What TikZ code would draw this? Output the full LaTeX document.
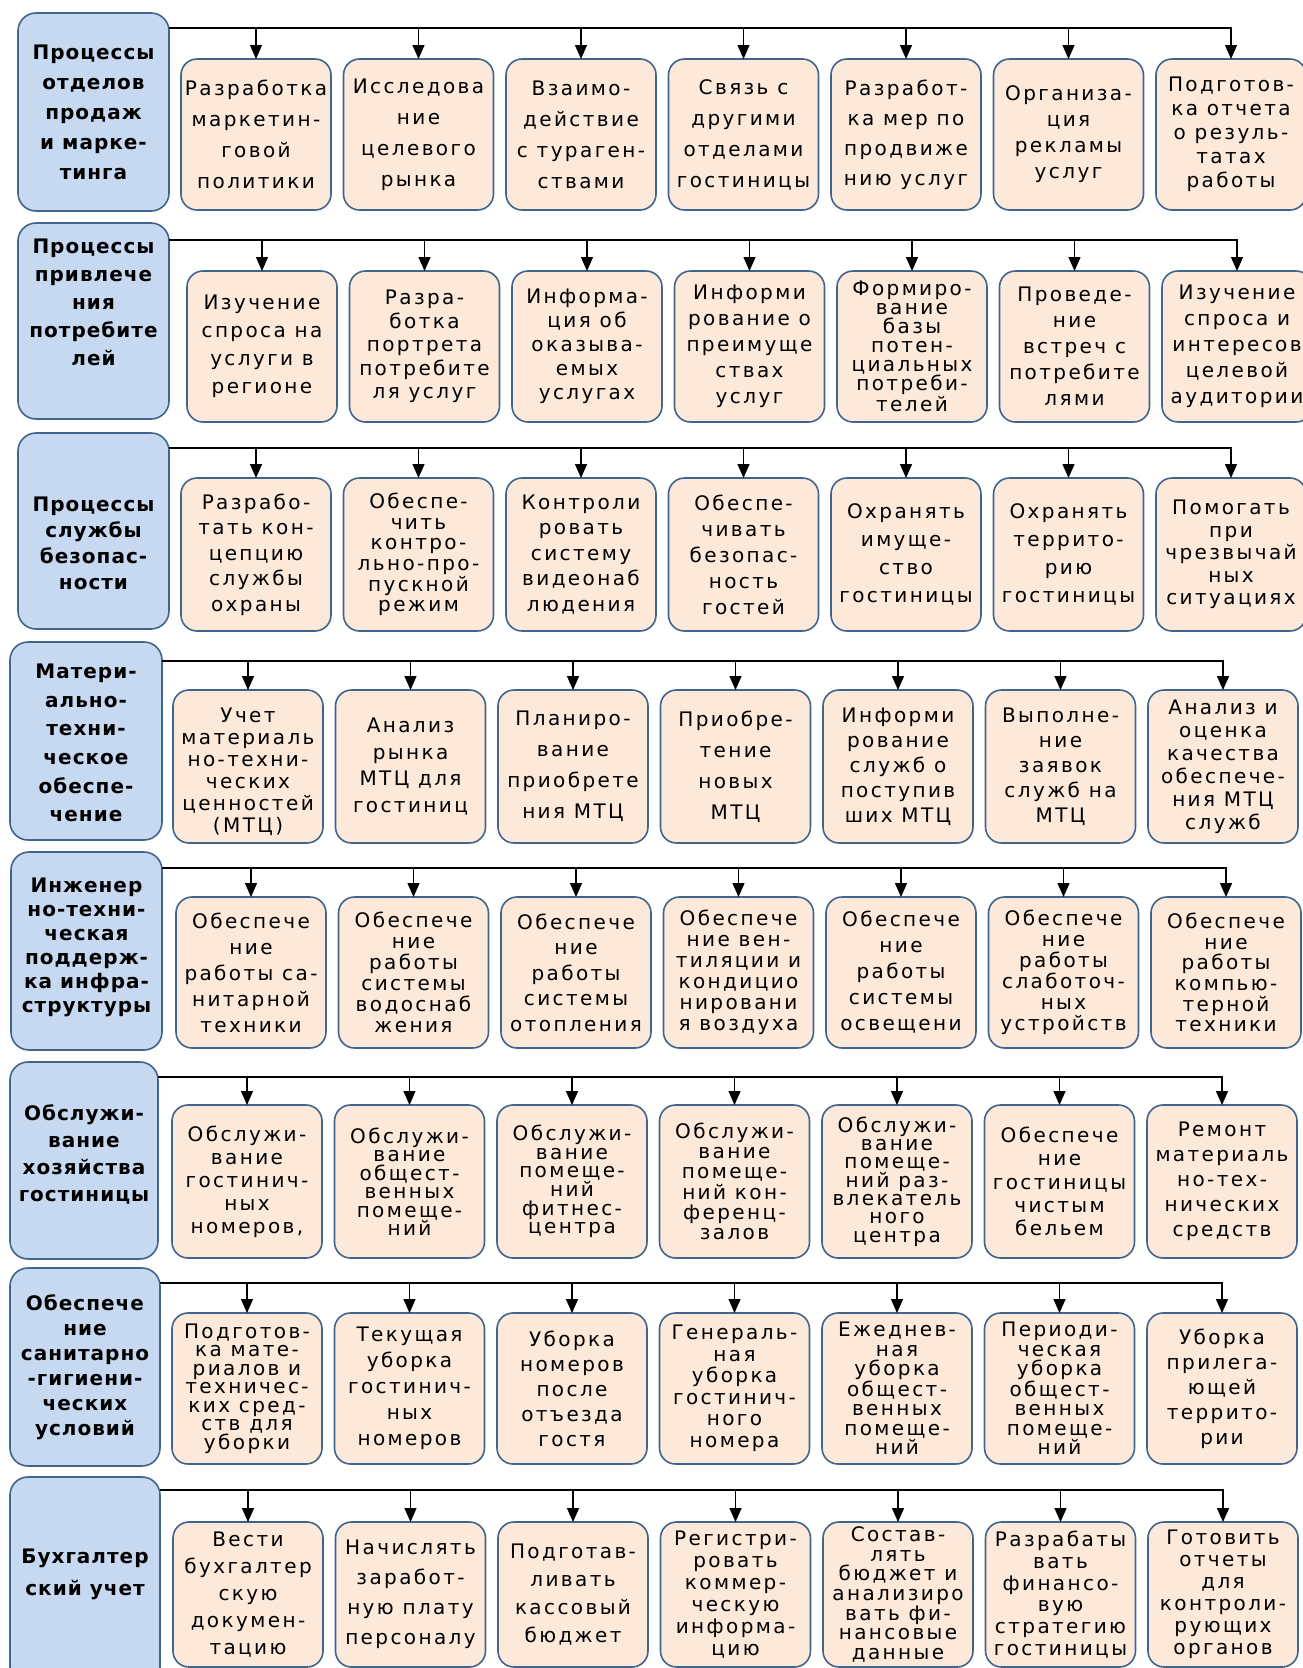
\documentclass[tikz,border=0pt]{standalone}
\usepackage{fontspec}
\setmainfont{DejaVu Sans}
\newfontfamily\pfont{DejaVu Sans}[LetterSpace=12]
\newfontfamily\hfont{DejaVu Sans}[LetterSpace=5]
\usetikzlibrary{arrows.meta}
\definecolor{headfill}{RGB}{198,217,241}
\definecolor{procfill}{RGB}{253,233,218}
\definecolor{edge}{RGB}{65,100,140}

\tikzset{
  proc/.style={draw=edge, fill=procfill, line width=1.6pt, rounded corners=16pt,
    minimum width=150pt, inner sep=0pt, outer sep=0pt},
  head/.style={draw=edge, fill=headfill, line width=1.6pt, rounded corners=18pt,
    inner sep=0pt, outer sep=0pt},
  ptext/.style={align=center, inner sep=0pt, font=\pfont\fontsize{20}{#1}\selectfont},
  htext/.style={align=center, inner sep=0pt, font=\hfont\bfseries\fontsize{20}{#1}\selectfont},
  link/.style={line width=1.3pt, draw=black},
  arr/.style={link, -{Triangle[length=14pt,width=12pt]}},
}

% department box: name, left, right, top, bottom, line skip, text shift, text
\newcommand\headbox[8]{%
  \node[head, minimum width={#3-#2}, minimum height={#5-#4}] (#1) at ({(#2+#3)/2},{(#4+#5)/2}) {};
  \node[htext=#6, yshift=#7pt] (#1t) at (#1.center) {#8};
}
% row geometry: left of first task box, top, bottom
\newcommand\rowsetup[3]{\def\bxL{#1}\def\bxT{#2}\def\bxB{#3}}
% task box: [text shift] name, column 0..6, line skip, text
\newcommand\procbox[5][0]{%
  \node[proc, minimum height={\bxB-\bxT}] (#2) at ({\bxL+75+162.5*#3},{(\bxT+\bxB)/2}) {};
  \node[ptext=#4, yshift=#1pt] (#2t) at (#2.center) {#5};
}
% bus line from a department box to its seven tasks
\newcommand\fanout[3]{%
  \coordinate (#3e) at ({\bxL+75+162.5*6},#2);
  \draw[arr] (#1.east |- #3e) -- (#3e) -- (#37.north);
  \foreach \k in {1,...,6} \draw[arr] (#3\k.north |- #3e) -- (#3\k.north);
}

\begin{document}
\begin{tikzpicture}[x=1pt,y=-1pt]
\useasboundingbox (0,0) rectangle (1303,1668);
\fill[white] (0,0) rectangle (1303,1668);

% ---- sales and marketing
\headbox{h1}{18}{169}{13}{211}{30}{0}{Процессы\\отделов\\продаж\\и марке-\\тинга}
\rowsetup{181}{59}{210}
\procbox{b11}{0}{31}{Разработка\\маркетин-\\говой\\политики}
\procbox{b12}{1}{31}{Исследова\\ние\\целевого\\рынка}
\procbox{b13}{2}{31}{Взаимо-\\действие\\с тураген-\\ствами}
\procbox{b14}{3}{31}{Связь с\\другими\\отделами\\гостиницы}
\procbox{b15}{4}{30}{Разработ-\\ка мер по\\продвиже\\нию услуг}
\procbox{b16}{5}{26}{Организа-\\ция\\рекламы\\услуг}
\procbox{b17}{6}{24}{Подготов-\\ка отчета\\о резуль-\\татах\\работы}
\fanout{h1}{28}{b1}

% ---- attracting customers
\headbox{h2}{18}{169}{223}{419}{28}{19}{Процессы\\привлече\\ния\\потребите\\лей}
\rowsetup{187}{271}{422}
\procbox{b21}{0}{28}{Изучение\\спроса на\\услуги в\\регионе}
\procbox{b22}{1}{23.5}{Разра-\\ботка\\портрета\\потребите\\ля услуг}
\procbox{b23}{2}{24}{Информа-\\ция об\\оказыва-\\емых\\услугах}
\procbox{b24}{3}{26}{Информи\\рование о\\преимуще\\ствах\\услуг}
\procbox{b25}{4}{19}{Формиро-\\вание\\базы\\потен-\\циальных\\потреби-\\телей}
\procbox{b26}{5}{26}{Проведе-\\ние\\встреч с\\потребите\\лями}
\procbox{b27}{6}{26}{Изучение\\спроса и\\интересов\\целевой\\аудитории}
\fanout{h2}{240}{b2}

% ---- security
\headbox{h3}{18}{169}{433}{629}{26}{-12}{Процессы\\службы\\безопас-\\ности}
\rowsetup{181}{478}{631}
\procbox{b31}{0}{25.5}{Разрабо-\\тать кон-\\цепцию\\службы\\охраны}
\procbox{b32}{1}{20.7}{Обеспе-\\чить\\контро-\\льно-про-\\пускной\\режим}
\procbox{b33}{2}{25.5}{Контроли\\ровать\\систему\\видеонаб\\людения}
\procbox{b34}{3}{26}{Обеспе-\\чивать\\безопас-\\ность\\гостей}
\procbox{b35}{4}{28}{Охранять\\имуще-\\ство\\гостиницы}
\procbox{b36}{5}{28}{Охранять\\террито-\\рию\\гостиницы}
\procbox{b37}{6}{22.5}{Помогать\\при\\чрезвычай\\ных\\ситуациях}
\fanout{h3}{448}{b3}

% ---- material supply
\headbox{h4}{10}{162}{642}{840}{28.6}{-2}{Матери-\\ально-\\техни-\\ческое\\обеспе-\\чение}
\rowsetup{173}{690}{843}
\procbox[-5]{b41}{0}{22}{Учет\\материаль\\но-техни-\\ческих\\ценностей\\(МТЦ)}
\procbox{b42}{1}{26.7}{Анализ\\рынка\\МТЦ для\\гостиниц}
\procbox{b43}{2}{31}{Планиро-\\вание\\приобрете\\ния МТЦ}
\procbox{b44}{3}{31}{Приобре-\\тение\\новых\\МТЦ}
\procbox{b45}{4}{25}{Информи\\рование\\служб о\\поступив\\ших МТЦ}
\procbox{b46}{5}{25}{Выполне-\\ние\\заявок\\служб на\\МТЦ}
\procbox{b47}{6}{23}{Анализ и\\оценка\\качества\\обеспече-\\ния МТЦ\\служб}
\fanout{h4}{661}{b4}

% ---- engineering support
\headbox{h5}{11}{162}{852}{1050}{24}{4}{Инженер\\но-техни-\\ческая\\поддерж-\\ка инфра-\\структуры}
\rowsetup{176}{897}{1048}
\procbox{b51}{0}{26}{Обеспече\\ние\\работы са-\\нитарной\\техники}
\procbox{b52}{1}{21}{Обеспече\\ние\\работы\\системы\\водоснаб\\жения}
\procbox{b53}{2}{25.5}{Обеспече\\ние\\работы\\системы\\отопления}
\procbox{b54}{3}{21}{Обеспече\\ние вен-\\тиляции и\\кондицио\\нировани\\я воздуха}
\procbox{b55}{4}{26}{Обеспече\\ние\\работы\\системы\\освещени}
\procbox{b56}{5}{21}{Обеспече\\ние\\работы\\слаботоч-\\ных\\устройств}
\procbox{b57}{6}{20.7}{Обеспече\\ние\\работы\\компью-\\терной\\техники}
\fanout{h5}{868}{b5}

% ---- housekeeping
\headbox{h6}{10}{158}{1062}{1259}{27}{6}{Обслужи-\\вание\\хозяйства\\гостиницы}
\rowsetup{172}{1105}{1258}
\procbox{b61}{0}{23}{Обслужи-\\вание\\гостинич-\\ных\\номеров,}
\procbox{b62}{1}{18.5}{Обслужи-\\вание\\общест-\\венных\\помеще-\\ний}
\procbox{b63}{2}{18.7}{Обслужи-\\вание\\помеще-\\ний\\фитнес-\\центра}
\procbox{b64}{3}{20.3}{Обслужи-\\вание\\помеще-\\ний кон-\\ференц-\\залов}
\procbox{b65}{4}{18.3}{Обслужи-\\вание\\помеще-\\ний раз-\\влекатель\\ного\\центра}
\procbox{b66}{5}{23.3}{Обеспече\\ние\\гостиницы\\чистым\\бельем}
\procbox{b67}{6}{25}{Ремонт\\материаль\\но-тех-\\нических\\средств}
\fanout{h6}{1077}{b6}

% ---- sanitary conditions
\headbox{h7}{10}{160}{1268}{1466}{25}{0}{Обеспече\\ние\\санитарно\\-гигиени-\\ческих\\условий}
\rowsetup{172}{1313}{1464}
\procbox{b71}{0}{18.5}{Подготов-\\ка мате-\\риалов и\\техничес-\\ких сред-\\ств для\\уборки}
\procbox{b72}{1}{26}{Текущая\\уборка\\гостинич-\\ных\\номеров}
\procbox{b73}{2}{25}{Уборка\\номеров\\после\\отъезда\\гостя}
\procbox{b74}{3}{21.5}{Генераль-\\ная\\уборка\\гостинич-\\ного\\номера}
\procbox{b75}{4}{19.5}{Ежеднев-\\ная\\уборка\\общест-\\венных\\помеще-\\ний}
\procbox{b76}{5}{19.5}{Периоди-\\ческая\\уборка\\общест-\\венных\\помеще-\\ний}
\procbox{b77}{6}{25}{Уборка\\прилега-\\ющей\\террито-\\рии}
\fanout{h7}{1283}{b7}

% ---- accounting
\headbox{h8}{10}{160}{1477}{1685}{32}{7}{Бухгалтер\\ский учет}
\rowsetup{173}{1522}{1667}
\procbox{b81}{0}{27}{Вести\\бухгалтер\\скую\\докумен-\\тацию}
\procbox{b82}{1}{30}{Начислять\\заработ-\\ную плату\\персоналу}
\procbox{b83}{2}{28}{Подготав-\\ливать\\кассовый\\бюджет}
\procbox{b84}{3}{22}{Регистри-\\ровать\\коммер-\\ческую\\информа-\\цию}
\procbox{b85}{4}{19.7}{Состав-\\лять\\бюджет и\\анализиро\\вать фи-\\нансовые\\данные}
\procbox{b86}{5}{21.7}{Разрабаты\\вать\\финансо-\\вую\\стратегию\\гостиницы}
\procbox{b87}{6}{22}{Готовить\\отчеты\\для\\контроли-\\рующих\\органов}
\fanout{h8}{1490}{b8}
\end{tikzpicture}
\end{document}
